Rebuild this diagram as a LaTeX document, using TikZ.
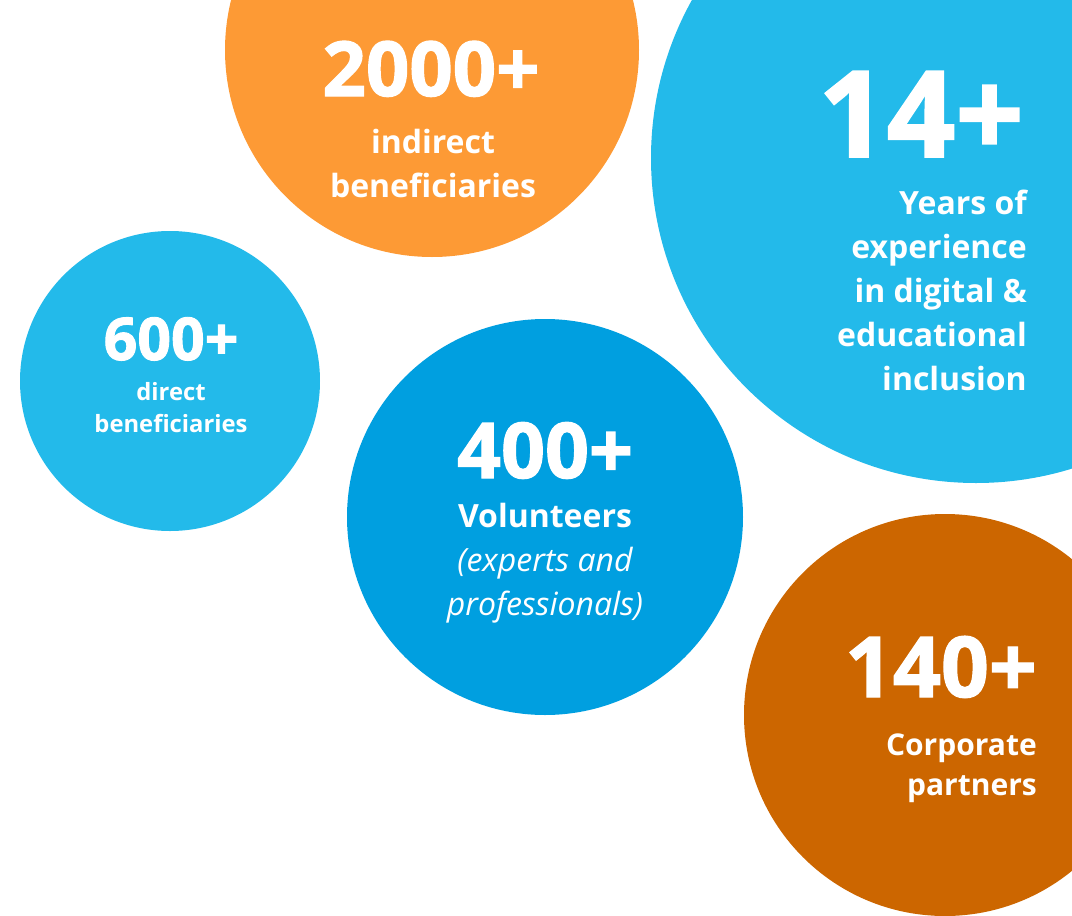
\documentclass[tikz,border=0pt]{standalone}
\usepackage{fontspec}
\setmainfont{Open Sans}
\newfontfamily\heavyfont[UprightFont=*, UprightFeatures={FakeBold=1.6}]{Open Sans Bold}
\definecolor{orangefill}{HTML}{FD9A35}
\definecolor{skyfill}{HTML}{23BAEA}
\definecolor{bluefill}{HTML}{009FE0}
\definecolor{brownfill}{HTML}{CC6600}

\begin{document}
\begin{tikzpicture}[x=1pt, y=-1pt,
    bubble/.style={circle, inner sep=0pt, draw=none},
    count/.style={text=white, inner sep=0pt, font=\heavyfont\fontsize{#1}{#1}\selectfont},
    label/.style={text=white, inner sep=0pt, font=\bfseries\fontsize{32}{44}\selectfont}]
  \useasboundingbox (0,0) rectangle (1072,916);
  \clip (0,0) rectangle (1072,916);
  % the bubbles
  \node[bubble, fill=orangefill, minimum size=414pt] (indirect) at (432,50) {};
  \node[bubble, fill=skyfill, minimum size=650pt] (years) at (976,158) {};
  \node[bubble, fill=skyfill, minimum size=300pt] (direct) at (170,381) {};
  \node[bubble, fill=bluefill, minimum size=396pt] (volunteers) at (545,517) {};
  \node[bubble, fill=brownfill, minimum size=402pt] (partners) at (945,715) {};
  % figures and captions (base = last line)
  \node[count=76, anchor=base] (indirectnum) at (431,96) {2000+};
  \node[label, anchor=base, align=center] (indirecttxt) at (433,197) {indirect\\beneficiaries};
  \node[count=120, anchor=base east] (yearsnum) at (1024,157) {14+};
  \node[label, anchor=base east, align=right] (yearstxt) at (1027,390)
    {Years of\\experience\\in digital \&\\educational\\inclusion};
  \node[count=59, anchor=base] (directnum) at (171,360) {600+};
  \node[label, font=\bfseries\fontsize{23.8}{32}\selectfont, anchor=base, align=center]
    (directtxt) at (171,432) {direct\\beneficiaries};
  \node[count=77, anchor=base] (volunteersnum) at (545,478) {400+};
  \node[label, anchor=base, align=center] (volunteerstxt) at (545,615)
    {Volunteers\\{\mdseries\itshape (experts and}\\{\mdseries\itshape professionals)}};
  \node[count=84, anchor=base east] (partnersnum) at (1037,697) {140+};
  \node[label, font=\bfseries\fontsize{30}{40}\selectfont, anchor=base east, align=right]
    (partnerstxt) at (1037,795) {Corporate\\partners};
\end{tikzpicture}
\end{document}
